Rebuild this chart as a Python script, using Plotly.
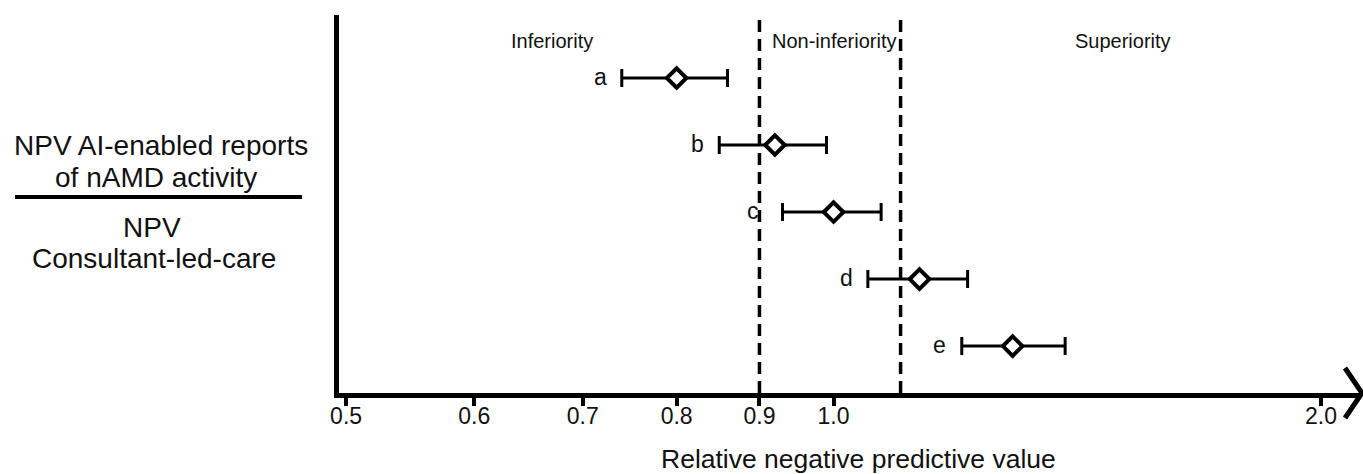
import math
import plotly.graph_objects as go

# ---------------- data ----------------
categories = ["a", "b", "c", "d", "e"]
rel_npv = [0.80, 0.92, 1.00, 1.13, 1.29]
ci_low = [0.74, 0.85, 0.93, 1.05, 1.20]
ci_high = [0.86, 0.99, 1.07, 1.21, 1.39]

tick_values = [0.5, 0.6, 0.7, 0.8, 0.9, 1.0, 2.0]
tick_labels = ["0.5", "0.6", "0.7", "0.8", "0.9", "1.0", "2.0"]

margin_lines = [0.9, 1.1]
zone_names = ["Inferiority", "Non-inferiority", "Superiority"]
zone_centres = [0.67, 1.0, 1.51]

x_title = "Relative negative predictive value"
left_top = ["NPV AI-enabled reports", "of nAMD activity"]
left_bottom = ["NPV", "Consultant-led-care"]

# ---------------- style ----------------
FONT = "Liberation Sans, Arial, sans-serif"
INK = "#111111"
label_shift = [-13, -13, -22, -13, -14]   # px gap between letter and CI cap

err_plus = [h - v for h, v in zip(ci_high, rel_npv)]
err_minus = [v - l for v, l in zip(rel_npv, ci_low)]

fig = go.Figure()
fig.add_trace(go.Scatter(
    x=rel_npv, y=categories, mode="markers",
    marker=dict(symbol="diamond", size=15, color="white",
                line=dict(color="black", width=4)),
    error_x=dict(type="data", symmetric=False, array=err_plus,
                 arrayminus=err_minus, color="black", thickness=3, width=9),
    showlegend=False, hoverinfo="x+y",
))

shapes = []
for m in margin_lines:
    shapes.append(dict(type="line", xref="x", yref="paper", x0=m, x1=m,
                       y0=0, y1=1, line=dict(color="black", width=3.5, dash="12px,7px"),
                       layer="below"))
# arrow head at the end of x axis
shapes.append(dict(type="path", xref="paper", yref="paper",
                   xsizemode="pixel", ysizemode="pixel", xanchor=1, yanchor=0,
                   path="M -17,25 L 0,0 L -17,-25",
                   line=dict(color="black", width=5)))
# fraction rule on the left
shapes.append(dict(type="line", xref="paper", yref="paper",
                   x0=-0.3167, x1=-0.0362, y0=0.5185, y1=0.5185,
                   line=dict(color="black", width=4)))

annotations = []
for name, c in zip(zone_names, zone_centres):
    annotations.append(dict(x=math.log10(c), y=0.931, xref="x", yref="paper",
                            text=name, showarrow=False, xanchor="center", yanchor="middle",
                            font=dict(family=FONT, size=20, color=INK)))
for cat, lo, sh in zip(categories, ci_low, label_shift):
    annotations.append(dict(x=math.log10(lo), y=cat, xref="x", yref="y",
                            text=cat, showarrow=False, xanchor="right", yanchor="middle",
                            xshift=sh, yshift=1,
                            font=dict(family=FONT, size=23, color=INK)))
annotations.append(dict(x=0.508, y=-0.175, xref="paper", yref="paper",
                        text=x_title, showarrow=False, xanchor="center", yanchor="middle",
                        font=dict(family=FONT, size=26.5, color=INK)))
for txt, xp, yp in zip(left_top + left_bottom,
                       [-0.174, -0.179, -0.183, -0.181],
                       [0.656, 0.571, 0.439, 0.357]):
    annotations.append(dict(x=xp, y=yp, xref="paper", yref="paper", text=txt,
                            showarrow=False, xanchor="center", yanchor="middle",
                            font=dict(family=FONT, size=28, color=INK)))

fig.update_layout(
    width=1363, height=474, autosize=False,
    margin=dict(l=339, r=1, t=15, b=81, pad=0),
    paper_bgcolor="white", plot_bgcolor="white",
    font=dict(family=FONT, color=INK),
    shapes=shapes, annotations=annotations,
    xaxis=dict(type="log", range=[math.log10(0.495), math.log10(2.12)],
               tickmode="array", tickvals=tick_values, ticktext=tick_labels,
               ticks="outside", ticklen=8, tickwidth=4, tickcolor="black",
               ticklabelstandoff=-10,
               tickfont=dict(family=FONT, size=23, color=INK),
               showline=True, linewidth=5, linecolor="black",
               showgrid=False, zeroline=False),
    yaxis=dict(type="category", categoryorder="array", categoryarray=categories,
               range=[4.70, -0.94], showticklabels=False, ticks="",
               showline=True, linewidth=5, linecolor="black",
               showgrid=False, zeroline=False),
)

fig.write_html("out.html", config={"displayModeBar": False},
               post_script="document.body.style.margin='0';")
